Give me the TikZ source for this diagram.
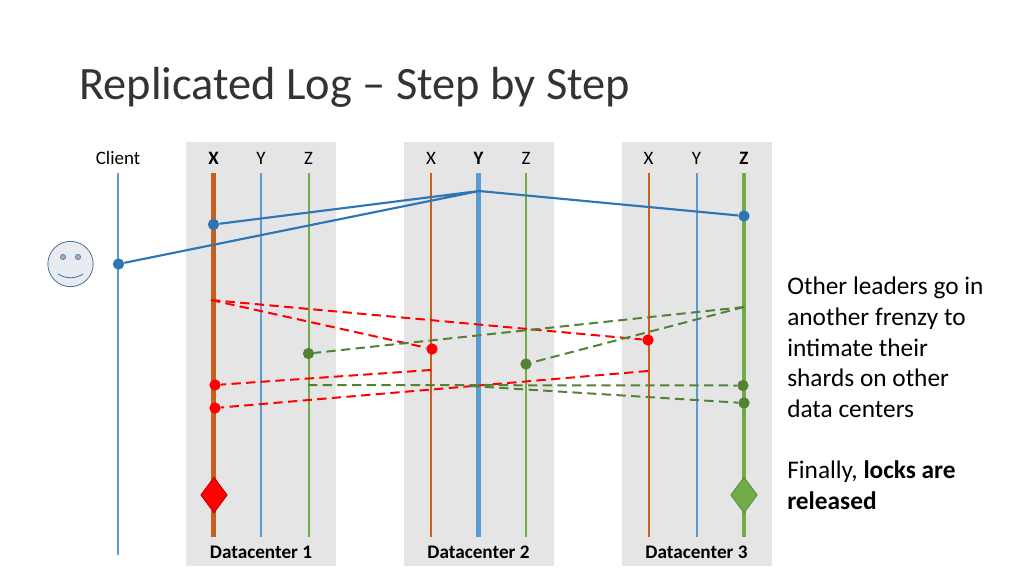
\documentclass[tikz,border=0pt]{standalone}
\usepackage{fontspec}
\setmainfont{Carlito}
\usetikzlibrary{shapes}
\usetikzlibrary{positioning}
\definecolor{panelgray}{HTML}{E5E5E5}
\definecolor{ocra}{HTML}{C5601F}
\definecolor{skyline}{HTML}{5B9BD5}
\definecolor{leaf}{HTML}{70AD47}
\definecolor{bluedot}{HTML}{2E75B6}
\definecolor{greendot}{HTML}{548235}
\definecolor{face}{HTML}{E8EBEF}
\definecolor{faceline}{HTML}{44719A}
\definecolor{eye}{HTML}{A5A9B5}
\definecolor{titlegray}{HTML}{333333}

\begin{document}
\begin{tikzpicture}[
	x=0.75pt,y=-0.75pt,
	panel/.style={fill=panelgray,draw=none,minimum width=112.5pt,minimum height=318pt,inner sep=0pt},
	head/.style={font=\fontsize{14.2}{17}\selectfont,inner sep=0pt},
	boldhead/.style={font=\fontsize{14.2}{17}\selectfont\bfseries,inner sep=0pt},
	dcname/.style={font=\fontsize{14.4}{17}\selectfont\bfseries,inner sep=0pt},
	slim/.style={line width=1.5pt},
	fat/.style={line width=3.5pt},
	msg/.style={line width=1.6pt,bluedot},
	reddash/.style={line width=1.5pt,red,dash pattern=on 7pt off 4pt},
	greendash/.style={line width=1.5pt,greendot,dash pattern=on 7pt off 4pt},
	dot/.style={circle,inner sep=0pt,minimum size=8.5pt},
	flag/.style={diamond,aspect=0.72,inner sep=0pt,minimum width=20pt,minimum height=27pt,line width=0.5pt}]
  \useasboundingbox (0,0) rectangle (1024,576);

  % title
  \node[anchor=west,inner sep=0pt,text=titlegray,font=\fontsize{34.8}{42}\selectfont] (title) at (79,87) {Replicated Log -- Step by Step};

  % datacenters
  \node[panel] (dc1) at (261,354) {};
  \node[panel] (dc2) at (478.5,354) {};
  \node[panel] (dc3) at (697,354) {};
  \node[dcname] (name1) at (261,552) {Datacenter 1};
  \node[dcname] (name2) at (478.5,552) {Datacenter 2};
  \node[dcname] (name3) at (696.5,552) {Datacenter 3};

  % column heads
  \node[head] (client) at (118,158) {Client};
  \node[boldhead] (x1) at (213.5,158) {X};
  \node[head] (y1) at (261,158) {Y};
  \node[head] (z1) at (308.5,158) {Z};
  \node[head] (x2) at (431,158) {X};
  \node[boldhead] (y2) at (478.5,158) {Y};
  \node[head] (z2) at (526,158) {Z};
  \node[head] (x3) at (648.5,158) {X};
  \node[head] (y3) at (696.5,158) {Y};
  \node[boldhead] (z3) at (744,158) {Z};

  % time lines
  \coordinate (ct) at (118,173);   \coordinate (cb) at (118,555);
  \coordinate (x1t) at (213.5,173); \coordinate (x1b) at (213.5,537);
  \coordinate (y1t) at (261,173);   \coordinate (y1b) at (261,537);
  \coordinate (z1t) at (308.5,173); \coordinate (z1b) at (308.5,537);
  \coordinate (x2t) at (431,173);   \coordinate (x2b) at (431,537);
  \coordinate (y2t) at (478.5,173); \coordinate (y2b) at (478.5,537);
  \coordinate (z2t) at (526,173);   \coordinate (z2b) at (526,537);
  \coordinate (x3t) at (648.5,173); \coordinate (x3b) at (648.5,537);
  \coordinate (y3t) at (696.5,173); \coordinate (y3b) at (696.5,537);
  \coordinate (z3t) at (744,173);   \coordinate (z3b) at (744,537);
  \draw[slim,skyline] (ct) -- (cb);
  \draw[fat,ocra] (x1t) -- (x1b);
  \draw[slim,skyline] (y1t) -- (y1b);
  \draw[slim,leaf] (z1t) -- (z1b);
  \draw[slim,ocra] (x2t) -- (x2b);
  \draw[fat,skyline] (y2t) -- (y2b);
  \draw[slim,leaf] (z2t) -- (z2b);
  \draw[slim,ocra] (x3t) -- (x3b);
  \draw[slim,skyline] (y3t) -- (y3b);
  \draw[fat,leaf] (z3t) -- (z3b);

  % client
  \node[circle,draw=faceline,fill=face,line width=0.6pt,minimum size=34pt,inner sep=0pt] (smiley) at (70.5,264) {};
  \node[circle,draw=faceline,fill=eye,line width=0.4pt,minimum size=4pt,inner sep=0pt] (eyeL) at (63,257) {};
  \node[circle,draw=faceline,fill=eye,line width=0.4pt,minimum size=4pt,inner sep=0pt] (eyeR) at (78,257) {};
  \coordinate (smileL) at (58,274);
  \coordinate (smileR) at (83,274);
  \draw[faceline,line width=0.6pt] (smileL) .. controls (66,279) and (75,279) .. (smileR);

  % points
  \node[dot,fill=bluedot] (req) at (118.5,264) {};
  \node[dot,fill=bluedot] (ackX) at (213.5,224.5) {};
  \node[dot,fill=bluedot] (ackZ) at (744,216) {};
  \coordinate (leaderY) at (479,191);
  \coordinate (redstart) at (211,300);
  \coordinate (greenstart) at (744,307);
  \coordinate (redX) at (431,370);
  \coordinate (redXX) at (648,371);
  \coordinate (greenZ) at (308,385);
  \coordinate (greenZZ) at (470,386);
  \node[dot,fill=red] (lockX) at (432,349) {};
  \node[dot,fill=red] (lockXX) at (648,340) {};
  \node[dot,fill=red] (relX) at (215,385) {};
  \node[dot,fill=red] (relXX) at (215,408) {};
  \node[dot,fill=greendot] (lockZ) at (308.5,353.5) {};
  \node[dot,fill=greendot] (lockZZ) at (526,364) {};
  \node[dot,fill=greendot] (relZ) at (743,385.5) {};
  \node[dot,fill=greendot] (relZZ) at (744,403) {};

  % messages
  \draw[msg] (req) -- (leaderY) -- (ackX);
  \draw[msg] (leaderY) -- (ackZ);
  \draw[reddash] (redstart) -- (lockX);
  \draw[reddash] (redstart) -- (lockXX);
  \draw[greendash] (greenstart) -- (lockZ);
  \draw[greendash] (greenstart) -- (lockZZ);
  \draw[reddash] (redX) -- (relX);
  \draw[reddash] (redXX) -- (relXX);
  \draw[greendash] (greenZ) -- (relZ);
  \draw[greendash] (greenZZ) -- (relZZ);

  % locks
  \node[flag,fill=red,draw=red!70!black] (lock1) at (214,495) {};
  \node[flag,fill=leaf,draw=greendot] (lock3) at (744,495) {};

  % side text
  \node[anchor=north west,inner sep=0pt,align=left,font=\fontsize{19}{23}\selectfont] (note) at (787,277) {Other leaders go in\\another frenzy to\\intimate their\\shards on other\\data centers\\[23pt]Finally, \textbf{locks are}\\\textbf{released}};
\end{tikzpicture}
\end{document}
